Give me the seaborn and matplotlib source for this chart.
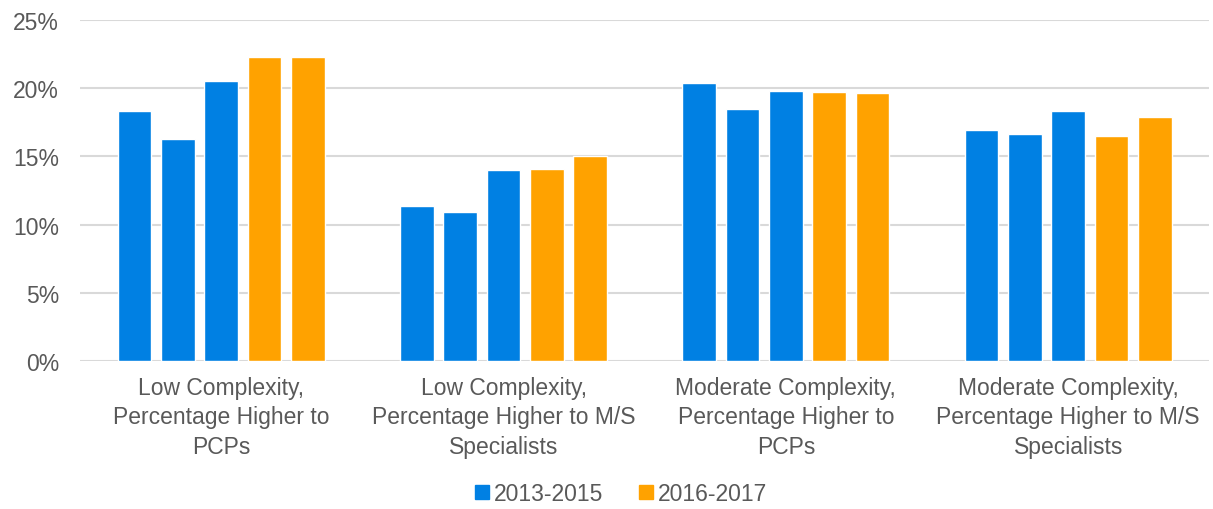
# Grouped bar chart med Seaborn

import pandas as pd
import matplotlib
matplotlib.use('Agg')
from matplotlib import pyplot as plt
from matplotlib.patches import Patch
from matplotlib.ticker import PercentFormatter
import seaborn as sns

sns.set_style('white')
plt.rcParams['font.family'] = ['Liberation Sans', 'DejaVu Sans']

# Data
categories = [
    'Low Complexity,\nPercentage Higher to\nPCPs',
    'Low Complexity,\nPercentage Higher to M/S\nSpecialists',
    'Moderate Complexity,\nPercentage Higher to\nPCPs',
    'Moderate Complexity,\nPercentage Higher to M/S\nSpecialists',
]
years = ['2013', '2014', '2015', '2016', '2017']
periods = ['2013-2015', '2013-2015', '2013-2015', '2016-2017', '2016-2017']
values = [
    [18.3, 16.3, 20.5, 22.3, 22.3],
    [11.4, 10.9, 14.0, 14.1, 15.0],
    [20.4, 18.5, 19.8, 19.7, 19.65],
    [16.9, 16.65, 18.3, 16.5, 17.85],
]

rows = []
for cat, vals in zip(categories, values):
    for yr, v in zip(years, vals):
        rows.append({'category': cat, 'year': yr, 'value': v})
df = pd.DataFrame(rows)

period_colors = {'2013-2015': '#0080E3', '2016-2017': '#FFA200'}
palette = {yr: period_colors[p] for yr, p in zip(years, periods)}

# Plot
fig = plt.figure(figsize=(12.13, 5.10), dpi=100)
ax = fig.add_axes([0.066, 0.29, 0.931, 0.669])
sns.barplot(data=df, x='category', y='value', hue='year', palette=palette,
            width=0.767, gap=0.22, saturation=1, legend=False, ax=ax)

ax.set_ylim(0, 25)
ax.set_yticks([0, 5, 10, 15, 20, 25])
ax.yaxis.set_major_formatter(PercentFormatter(decimals=0))
ax.grid(axis='y', color='#D9D9D9', linewidth=1.5)
ax.set_axisbelow(True)
for s in ax.spines.values():
    s.set_visible(False)
ax.set_xlabel('')
ax.set_ylabel('')
ax.tick_params(axis='both', length=0, labelsize=16.5, colors='#595959')
ax.tick_params(axis='x', pad=11)
ax.tick_params(axis='y', pad=15)
for lbl in ax.get_xticklabels():
    lbl.set_linespacing(1.34)

handles = [Patch(color=c, label=p) for p, c in period_colors.items()]
fig.legend(handles=handles, loc='center', bbox_to_anchor=(0.512, 0.03), ncol=2,
           frameon=False, fontsize=16.5, handlelength=0.6, handleheight=0.6,
           handletextpad=0.2, columnspacing=1.6, labelcolor='#595959')

fig.savefig('out.png', dpi=100)
